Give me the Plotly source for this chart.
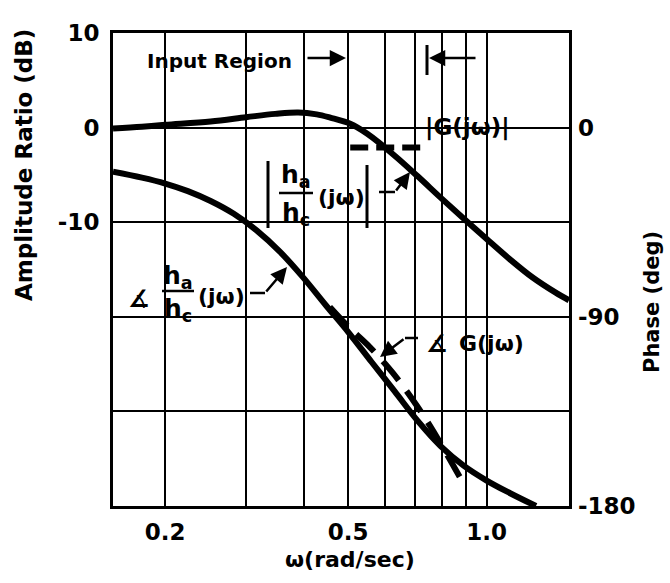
import plotly.graph_objects as go

# Frequency axis (rad/sec): grid positions and the labels printed under them
x_ticks = [0.2, 0.3, 0.4, 0.5, 0.6, 0.7, 0.8, 0.9, 1.0]
x_tick_text = ["0.2", "", "", "0.5", "", "", "", "", "1.0"]

# Amplitude ratio axis (dB) and phase axis (deg)
amp_ticks = [10, 0, -10, -20, -30]
amp_tick_text = ["10", "0", "-10", "", ""]
phase_ticks = [0, -90, -180]
phase_tick_text = ["0", "-90", "-180"]

# |ha/hc(jw)| in dB
w_amp = [0.154, 0.178, 0.2, 0.251, 0.3, 0.347, 0.389, 0.427, 0.457, 0.505, 0.55,
         0.631, 0.708, 0.794, 0.891, 1.0, 1.122, 1.259, 1.413, 1.51]
amp_db = [-0.1, 0.1, 0.3, 0.65, 1.1, 1.45, 1.6, 1.4, 1.05, 0.4, -0.66,
          -2.97, -5.15, -7.4, -9.6, -11.78, -13.9, -15.85, -17.45, -18.25]

# angle of ha/hc(jw) in degrees
w_phase = [0.154, 0.178, 0.2, 0.224, 0.251, 0.282, 0.316, 0.355, 0.398, 0.447, 0.501,
           0.562, 0.631, 0.708, 0.794, 0.891, 1.0, 1.122, 1.28]
phase_deg = [-21, -23.8, -26.6, -30.2, -34.9, -41, -48.9, -59, -71, -84.5, -97.5,
             -111.5, -125.5, -139.5, -151.5, -160.8, -167.9, -173.8, -180]

# describing function G(jw), measured over the input region only
w_g_amp = [0.505, 0.55, 0.6, 0.65, 0.7, 0.742]
g_amp_db = [-2.1, -2.1, -2.1, -2.1, -2.1, -2.1]
w_g_phase = [0.456, 0.504, 0.557, 0.625, 0.708, 0.779, 0.874]
g_phase_deg = [-85.3, -95.4, -104.4, -116.7, -132.9, -147.2, -166.2]

# ---- page geometry of the plotting frame ----
W_PAGE, H_PAGE = 670, 583
L, T, PW, PH = 113, 33, 456, 473


def fx(px):
    return (px - L) / PW


def fy(py):
    return (T + PH - py) / PH


FONT = "DejaVu Sans"
INK = "black"

fig = go.Figure()

fig.add_trace(go.Scatter(x=w_amp, y=amp_db, mode="lines", line=dict(color=INK, width=6, shape="spline"),
                         yaxis="y", showlegend=False, hoverinfo="skip"))
fig.add_trace(go.Scatter(x=w_phase, y=phase_deg, mode="lines", line=dict(color=INK, width=6, shape="spline"),
                         yaxis="y2", showlegend=False, hoverinfo="skip"))
fig.add_trace(go.Scatter(x=w_g_phase, y=g_phase_deg, mode="lines",
                         line=dict(color=INK, width=6, shape="spline", dash="25px,13px"),
                         yaxis="y2", showlegend=False, hoverinfo="skip"))
fig.add_trace(go.Scatter(x=w_g_amp, y=g_amp_db, mode="lines",
                         line=dict(color=INK, width=6, dash="18px,8px"),
                         yaxis="y", showlegend=False, hoverinfo="skip"))

shapes = []


def blank(x0, y0, x1, y1):
    shapes.append(dict(type="rect", xref="paper", yref="paper", x0=fx(x0), x1=fx(x1), y0=fy(y1), y1=fy(y0),
                       fillcolor="white", line=dict(width=0), layer="between"))


def stroke(x0, y0, x1, y1, w=2.5):
    shapes.append(dict(type="line", xref="paper", yref="paper", x0=fx(x0), y0=fy(y0), x1=fx(x1), y1=fy(y1),
                       line=dict(color=INK, width=w)))


# clear the grid behind the lettering
blank(140, 43, 303, 79)      # Input Region
blank(432, 34, 468, 44)
blank(414, 93, 518, 160)     # |G(jw)|
blank(258, 158, 393, 232)    # |ha/hc(jw)|
blank(380, 129, 393, 158)
blank(137, 248, 247, 338)    # angle ha/hc(jw)
blank(240, 267, 256, 312)
blank(398, 322, 530, 372)    # angle G(jw)

# input region end marker
stroke(427, 45, 427, 75, 3)

# |ha/hc| magnitude bars and fraction rules
stroke(268, 161, 268, 228, 3)
stroke(367, 165, 367, 228, 3)
stroke(279, 193, 313, 193, 2.5)
stroke(162, 291, 194, 291, 2.5)

# leader segments
stroke(379, 192, 395, 192, 2.5)
stroke(250, 293, 265, 293, 2.5)
stroke(405, 338, 418, 338, 2.5)

annotations = []


def label(px, py, text, size=20, angle=0, xanchor="center"):
    annotations.append(dict(x=fx(px), y=fy(py), xref="paper", yref="paper", text=text, showarrow=False,
                            textangle=angle, xanchor=xanchor, yanchor="middle",
                            font=dict(family=FONT, size=size, color=INK, weight="bold")))


def arrow(head, tail):
    annotations.append(dict(x=fx(head[0]), y=fy(head[1]), xref="paper", yref="paper", text="",
                            showarrow=True, ax=tail[0] - head[0], ay=tail[1] - head[1],
                            arrowhead=2, arrowsize=1.3, arrowwidth=2.5, arrowcolor=INK, standoff=0))


label(219, 61, "Input Region", 20)
arrow((346, 58), (306, 58))
arrow((429, 58), (477, 58))

label(467, 127, "|G(jω)|", 23)

label(296, 176, "h<sub>a</sub>", 25)
label(296, 214, "h<sub>c</sub>", 25)
label(341, 197, "(jω)", 22)
arrow((410, 172), (395, 192))

label(139, 299, "∡", 24)
label(178, 277, "h<sub>a</sub>", 25)
label(178, 310, "h<sub>c</sub>", 25)
label(221, 296, "(jω)", 22)
arrow((287, 267), (265, 293))

label(437, 344, "∡", 24)
label(491, 343, "G(jω)", 22)
arrow((380, 357), (405, 338))

# axis titles
label(24, 165, "Amplitude Ratio (dB)", 23, angle=-90)
label(652, 302, "Phase (deg)", 21, angle=-90)
label(350, 559, "ω(rad/sec)", 22)

tick_font = dict(family=FONT, size=23, color=INK, weight="bold")

fig.update_layout(
    width=W_PAGE, height=H_PAGE,
    margin=dict(l=L, r=W_PAGE - L - PW, t=T, b=H_PAGE - T - PH, pad=0),
    paper_bgcolor="white", plot_bgcolor="white",
    showlegend=False,
    xaxis=dict(type="log", range=[-0.8125, 0.179], tickmode="array", tickvals=x_ticks, ticktext=x_tick_text,
               showgrid=True, gridcolor=INK, gridwidth=2, zeroline=False,
               showline=True, linecolor=INK, linewidth=3, mirror=True,
               ticks="", tickfont=tick_font, ticklabelstandoff=3),
    yaxis=dict(range=[-40, 10], tickmode="array", tickvals=amp_ticks, ticktext=amp_tick_text,
               showgrid=True, gridcolor=INK, gridwidth=2, zeroline=False,
               showline=True, linecolor=INK, linewidth=3, mirror=True,
               ticks="", tickfont=tick_font, ticklabelstandoff=6),
    yaxis2=dict(range=[-180, 45], overlaying="y", side="right", tickmode="array",
                tickvals=phase_ticks, ticktext=phase_tick_text, showgrid=False, zeroline=False,
                showline=False, ticks="", tickfont=tick_font, ticklabelstandoff=8),
    shapes=shapes,
    annotations=annotations,
)

fig.write_html("out.html")
